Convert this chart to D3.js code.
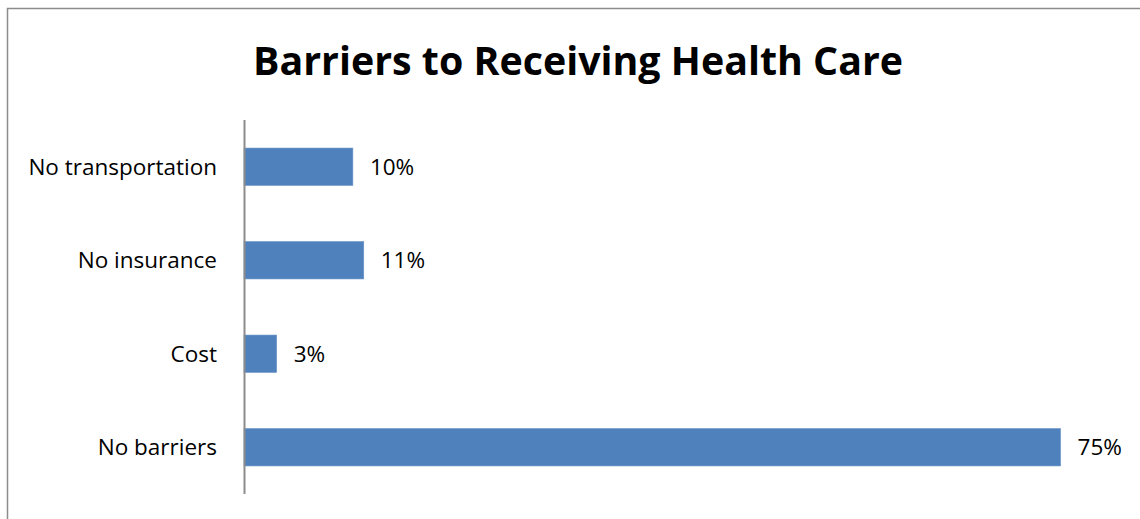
<!DOCTYPE html>
<html>
<head>
<meta charset="utf-8">
<script src="https://cdn.jsdelivr.net/npm/d3@7"></script>
<style>
  html, body { margin: 0; padding: 0; background: #fff; overflow: hidden; }
  svg { display: block; }
</style>
</head>
<body>
<svg id="chart" width="1140" height="519"></svg>
<script>
// Survey responses: share of respondents reporting each barrier
const categories = ["No transportation", "No insurance", "Cost", "No barriers"];
const values = [10, 11, 3, 75];
const valueLabels = ["10%", "11%", "3%", "75%"];
const title = "Barriers to Receiving Health Care";

const svg = d3.select("#chart");
const W = 1140, H = 519;
const font = "'Open Sans', 'Noto Sans', sans-serif";

// Outer chart frame: only the top and left edges fall inside the view
svg.append("path")
  .attr("d", `M7.5,${H}V8.5H${W}`)
  .attr("fill", "none")
  .attr("stroke", "#8c8c8c")
  .attr("stroke-width", 1.5);

// Title
svg.append("text")
  .attr("x", 578).attr("y", 75)
  .attr("text-anchor", "middle")
  .attr("font-family", font)
  .attr("font-weight", 700)
  .attr("font-size", 40)
  .attr("textLength", 650)
  .attr("lengthAdjust", "spacingAndGlyphs")
  .attr("fill", "#000")
  .text(title);

const plot = { left: 244, right: 1115, top: 120, bottom: 494 };

const x = d3.scaleLinear().domain([0, 80]).range([plot.left, plot.right]);
const y = d3.scaleBand().domain(categories).range([plot.top, plot.bottom]).paddingInner(0.6).paddingOuter(0.3);

// Bars
svg.append("g").selectAll("rect")
  .data(categories)
  .join("rect")
  .attr("x", x(0))
  .attr("y", d => y(d))
  .attr("width", (d, i) => x(values[i]) - x(0))
  .attr("height", y.bandwidth())
  .attr("fill", "#4f81bd")
  .attr("stroke", "#6a95c9")
  .attr("stroke-width", 0.6);

// Value labels
svg.append("g").selectAll("text")
  .data(categories)
  .join("text")
  .attr("x", (d, i) => x(values[i]) + 17)
  .attr("y", d => y(d) + y.bandwidth() / 2)
  .attr("dy", "0.36em")
  .attr("font-family", font)
  .attr("font-size", 22.5)
  .attr("fill", "#000")
  .text((d, i) => valueLabels[i]);

// Category axis
const yAxis = d3.axisLeft(y).tickSize(0).tickPadding(27);
const gAxis = svg.append("g")
  .attr("transform", `translate(${plot.left},0)`)
  .call(yAxis);
gAxis.select(".domain")
  .attr("d", `M0.5,${plot.top}V${plot.bottom}`)
  .attr("stroke", "#8c8c8c")
  .attr("stroke-width", 2);
gAxis.selectAll(".tick text")
  .attr("font-family", font)
  .attr("font-size", 22.5)
  .attr("fill", "#000")
  .attr("dy", "0.36em");
</script>
</body>
</html>
